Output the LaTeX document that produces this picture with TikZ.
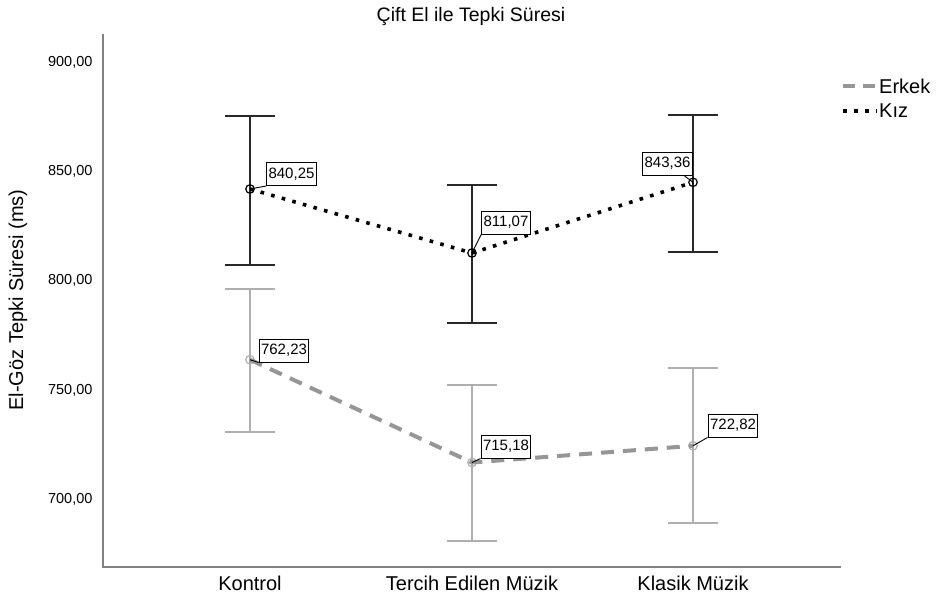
\documentclass[tikz,border=0pt]{standalone}
\usepackage{fontspec}
\setmainfont{Liberation Sans}
\definecolor{axiscol}{RGB}{130,130,130}
\definecolor{erkline}{RGB}{150,150,150}
\definecolor{erkbar}{RGB}{175,175,175}
\definecolor{kizbar}{RGB}{40,40,40}
\newcommand\myebar[5]{%
  \coordinate (#1t) at (#2,#3);
  \coordinate (#1b) at (#2,#4);
  \draw[#5] (#1t) -- (#1b)
    ([xshift=-25pt]#1t) -- ([xshift=25pt]#1t)
    ([xshift=-25pt]#1b) -- ([xshift=25pt]#1b);}
\begin{document}
\begin{tikzpicture}[x=1pt,y=-1pt,
  titletext/.style={font=\fontsize{19.5}{22}\selectfont},
  bigtext/.style={font=\fontsize{20}{23}\selectfont},
  ticktext/.style={font=\fontsize{14.5}{17}\selectfont, anchor=east},
  kizbars/.style={draw=kizbar, line width=1.6pt},
  erkbars/.style={draw=erkbar, line width=1.6pt},
  kizline/.style={draw=black, line width=3.6pt, dash pattern=on 3.6pt off 7.4pt},
  erkdash/.style={draw=erkline, line width=4pt, dash pattern=on 13pt off 9pt},
  mk/.style={circle, minimum size=8.5pt, inner sep=0pt, line width=1.2pt},
  lbl/.style={draw=black, fill=white, line width=1pt, inner xsep=2pt, inner ysep=0pt,
    minimum height=23pt, font=\fontsize{15}{17}\selectfont},
  leader/.style={draw=black, line width=0.9pt}]
\useasboundingbox (0,0) rectangle (939,603);
\fill[white] (0,0) rectangle (939,603);
% title
\node[titletext] (title) at (471,16) {Çift El ile Tepki Süresi};
% axes
\coordinate (ytop) at (103,34);
\coordinate (orig) at (103,567);
\coordinate (xend) at (841,567);
\draw[axiscol, line width=1.3pt] (ytop) -- (orig) -- (xend);
% tick labels
\node[ticktext] (t900) at (96,62) {900,00};
\node[ticktext] (t850) at (96,171.3) {850,00};
\node[ticktext] (t800) at (96,280.6) {800,00};
\node[ticktext] (t750) at (96,389.9) {750,00};
\node[ticktext] (t700) at (96,499.2) {700,00};
% y label
\node[bigtext, rotate=90] (ylab) at (18,300) {El-Göz Tepki Süresi (ms)};
% category labels
\node[bigtext] (c1) at (250,583) {Kontrol};
\node[bigtext] (c2) at (472,583) {Tercih Edilen Müzik};
\node[bigtext] (c3) at (693,583) {Klasik Müzik};
% error bars
\myebar{ke}{250}{289}{432}{erkbars}
\myebar{te}{472}{385}{541}{erkbars}
\myebar{ce}{693}{368}{523}{erkbars}
\myebar{kk}{250}{116}{265}{kizbars}
\myebar{tk}{472}{185}{323}{kizbars}
\myebar{ck}{693}{115}{252}{kizbars}
% markers
\node[mk, draw=erkbar] (me1) at (250,359.7) {};
\node[mk, draw=erkbar] (me2) at (472,462.5) {};
\node[mk, draw=erkbar] (me3) at (693,445.8) {};
\node[mk, draw=black] (mk1) at (250,189) {};
\node[mk, draw=black] (mk2) at (472,253) {};
\node[mk, draw=black] (mk3) at (693,182.3) {};
% lines
\draw[erkdash] (me1.center) -- (me2.center) -- (me3.center);
\draw[kizline] (mk1.center) -- (mk2.center) -- (mk3.center);
% labels
\node[lbl] (l1) at (291.5,174) {840,25};
\node[lbl] (l2) at (284,350.5) {762,23};
\node[lbl] (l3) at (506,222.5) {811,07};
\node[lbl] (l4) at (506,446.5) {715,18};
\node[lbl] (l5) at (667.5,163.5) {843,36};
\node[lbl] (l6) at (733,425.5) {722,82};
\draw[leader] (mk1.center) -- (l1.south west);
\draw[leader] (me1.center) -- (l2.south west);
\draw[leader] (mk2.center) -- (l3.south west);
\draw[leader] (me2.center) -- (l4.south west);
\draw[leader] (mk3.center) -- ([xshift=-9pt]l5.south east);
\draw[leader] (me3.center) -- (l6.south west);
% legend
\coordinate (la1) at (843,86);
\coordinate (la2) at (877,86);
\coordinate (lb1) at (843,111);
\coordinate (lb2) at (877,111);
\draw[erkdash, dash pattern=on 12pt off 8pt] (la1) -- (la2);
\draw[kizline] (lb1) -- (lb2);
\node[bigtext, anchor=west, inner sep=1pt] (lg1) at (878,86) {Erkek};
\node[bigtext, anchor=west, inner sep=1pt] (lg2) at (878,111) {Kız};
\end{tikzpicture}
\end{document}
